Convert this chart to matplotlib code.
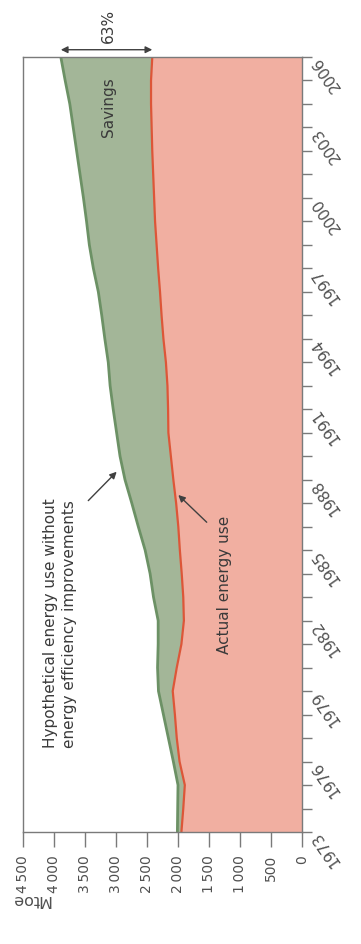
import matplotlib
matplotlib.use("Agg")
import matplotlib.pyplot as plt
import numpy as np
from matplotlib.ticker import FixedLocator, MultipleLocator

plt.rcParams['font.family'] = ['DejaVu Sans']

years = list(range(1973, 2007))
actual = [1945, 1915, 1890, 1975, 2020, 2050, 2085, 2020, 1945, 1905,
          1915, 1940, 1970, 1995, 2030, 2075, 2115, 2155, 2160, 2170,
          2195, 2235, 2265, 2290, 2320, 2345, 2370, 2385, 2400, 2415,
          2425, 2435, 2435, 2415]
hypothetical = [2010, 2005, 2000, 2075, 2155, 2235, 2315, 2330, 2320, 2320,
                2395, 2450, 2530, 2640, 2745, 2855, 2935, 2990, 3045, 3095,
                3125, 3180, 3230, 3285, 3365, 3430, 3475, 3525, 3580, 3635,
                3690, 3745, 3820, 3890]
mtoe_ticks = [0, 500, 1000, 1500, 2000, 2500, 3000, 3500, 4000, 4500]
mtoe_labels = ["0", "500", "1\u2009000", "1\u2009500", "2\u2009000", "2\u2009500",
               "3\u2009000", "3\u2009500", "4\u2009000", "4\u2009500"]
year_ticks = [1973, 1976, 1979, 1982, 1985, 1988, 1991, 1994, 1997, 2000, 2003, 2006]

W, H = 361, 945
fig = plt.figure(figsize=(W / 100, H / 100), dpi=100)
ax = fig.add_axes([23 / W, 1 - 833 / H, (302 - 23) / W, (833 - 58) / H])

red_fill = "#F1AFA1"
red_line = "#DD5638"
green_fill = "#A3B698"
green_line = "#6C9165"
grey = "#7a7a7a"
txt = "#3a3a3a"

ax.fill_betweenx(years, 0, actual, color=red_fill, lw=0)
ax.fill_betweenx(years, actual, hypothetical, color=green_fill, lw=0)
ax.plot(hypothetical, years, color=green_line, lw=2.0, solid_capstyle='butt')
ax.plot(actual, years, color=red_line, lw=1.6, solid_capstyle='butt')

ax.set_xlim(4500, 0)
ax.set_ylim(1973, 2006)

for s in ax.spines.values():
    s.set_color(grey)
    s.set_linewidth(1.0)

ax.xaxis.set_major_locator(FixedLocator(mtoe_ticks))
ax.set_xticklabels(mtoe_labels)
ax.tick_params(axis='x', direction='out', length=10.8, width=1.0, color=grey,
               pad=5, labelsize=10, labelcolor="#505050")
plt.setp(ax.get_xticklabels(), rotation=90, ha='center', va='top')

ax.yaxis.tick_right()
ax.yaxis.set_major_locator(FixedLocator(year_ticks))
ax.yaxis.set_minor_locator(MultipleLocator(1))
ax.set_yticklabels([str(y) for y in year_ticks])
ax.tick_params(axis='y', which='both', direction='out', length=7.2, width=1.0,
               color=grey, pad=2, labelsize=11, labelcolor="#505050")
plt.setp(ax.get_yticklabels(), rotation=125, ha='right', va='center',
         rotation_mode='anchor')

# Annotations
ax.text(3129, 2003.91, "Savings", rotation=90, ha='center', va='center',
        fontsize=11, color=txt)
ax.text(1242, 1983.56, "Actual energy use", rotation=90, ha='center', va='center',
        fontsize=11, color=txt)
ax.text(3903, 1976.62, "Hypothetical energy use without\nenergy efficiency improvements",
        rotation=90, ha='center', va='bottom', multialignment='left',
        fontsize=11, color=txt, linespacing=1.3)

ax.annotate("", xy=(2989, 1988.34), xytext=(3447, 1987.11),
            arrowprops=dict(arrowstyle='-|>', color="#404040", lw=1.0,
                            mutation_scale=10, shrinkA=0, shrinkB=0))
ax.annotate("", xy=(1995, 1987.35), xytext=(1537, 1986.19),
            arrowprops=dict(arrowstyle='-|>', color="#404040", lw=1.0,
                            mutation_scale=10, shrinkA=0, shrinkB=0))

ax.annotate("", xy=(hypothetical[-1], 2006.31), xytext=(actual[-1], 2006.31),
            annotation_clip=False,
            arrowprops=dict(arrowstyle='<|-|>', color="#404040", lw=1.0,
                            mutation_scale=10, shrinkA=0, shrinkB=0))
ax.text(3129, 2007.36, "63%", rotation=90, ha='center', va='center',
        fontsize=11, color=txt, clip_on=False)

fig.text(31 / W, 1 - 900 / H, "Mtoe", rotation=180, ha='center', va='center',
         fontsize=11.5, color="#505050")

fig.savefig("out.png", dpi=100)
